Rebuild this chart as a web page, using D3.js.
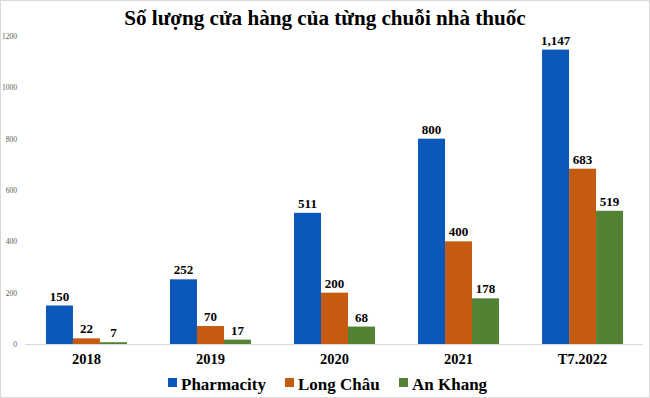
<!DOCTYPE html>
<html><head><meta charset="utf-8">
<script src="https://cdn.jsdelivr.net/npm/d3@7"></script>
<style>body{margin:0;background:#fff}svg{display:block}</style>
</head><body>
<svg id="c" width="650" height="398"></svg>
<script>
const categories = ["2018","2019","2020","2021","T7.2022"];
const seriesNames = ["Pharmacity","Long Châu","An Khang"];
const pharmacity = [150,252,511,800,1147];
const longChau = [22,70,200,400,683];
const anKhang = [7,17,68,178,519];
const yTicks = [0,200,400,600,800,1000,1200];
const colors = ["#0B57BA","#C55A11","#548235"];
const title = "Số lượng cửa hàng của từng chuỗi nhà thuốc";

const series = [pharmacity,longChau,anKhang];
const serif = "Liberation Serif, Times New Roman, serif";
const svg = d3.select("#c");
svg.append("rect").attr("x",0.5).attr("y",0.5).attr("width",649).attr("height",397)
  .attr("fill","#fff").attr("stroke","#d9d9d9");

const x = d3.scaleBand().domain(categories).range([24.5,644.5]).paddingInner(0.347).paddingOuter(0.173);
const xs = d3.scaleBand().domain(seriesNames).range([0,x.bandwidth()]);
const y = d3.scaleLinear().domain([0,1200]).range([344,36]);

svg.append("text").attr("transform","translate(325,25) scale(0.96,1)").attr("text-anchor","middle")
  .attr("font-family",serif).attr("font-weight","bold").attr("font-size",22).text(title);

const yAxis = svg.append("g").attr("transform","translate(20,0)")
  .call(d3.axisLeft(y).tickValues(yTicks).tickSize(0).tickFormat(d3.format("d")));
yAxis.select(".domain").remove();
yAxis.selectAll("text").attr("font-family",serif).attr("font-size",7.5).attr("fill","#595959");

svg.append("line").attr("x1",25).attr("x2",643).attr("y1",y(0)+0.5).attr("y2",y(0)+0.5).attr("stroke","#d9d9d9");

const g = svg.append("g").selectAll("g").data(categories).join("g")
  .attr("transform",d=>`translate(${x(d)},0)`);
seriesNames.forEach((s,si)=>{
  g.append("rect").attr("x",xs(s)).attr("width",xs.bandwidth())
    .attr("y",(d,i)=>y(series[si][i])).attr("height",(d,i)=>y(0)-y(series[si][i]))
    .attr("fill",colors[si]);
  g.append("text").attr("x",xs(s)+xs.bandwidth()/2).attr("y",(d,i)=>y(series[si][i])-5)
    .attr("text-anchor","middle").attr("font-family",serif).attr("font-weight","bold").attr("font-size",13)
    .text((d,i)=>d3.format(",")(series[si][i]));
});

const xAxis = svg.append("g").attr("transform",`translate(0,${y(0)})`)
  .call(d3.axisBottom(x).tickSize(0).tickPadding(10));
xAxis.select(".domain").remove();
xAxis.selectAll("text").attr("font-family",serif).attr("font-weight","bold").attr("font-size",14.5).attr("fill","#000");

const legendX = [168,285,399];
const lg = svg.append("g").selectAll("g").data(seriesNames).join("g")
  .attr("transform",(d,i)=>`translate(${legendX[i]},0)`);
lg.append("rect").attr("x",0).attr("y",378).attr("width",9).attr("height",9).attr("fill",(d,i)=>colors[i]);
lg.append("text").attr("x",13).attr("y",390).attr("font-family",serif).attr("font-weight","bold")
  .attr("font-size",17).text(d=>d);
</script>
</body></html>
